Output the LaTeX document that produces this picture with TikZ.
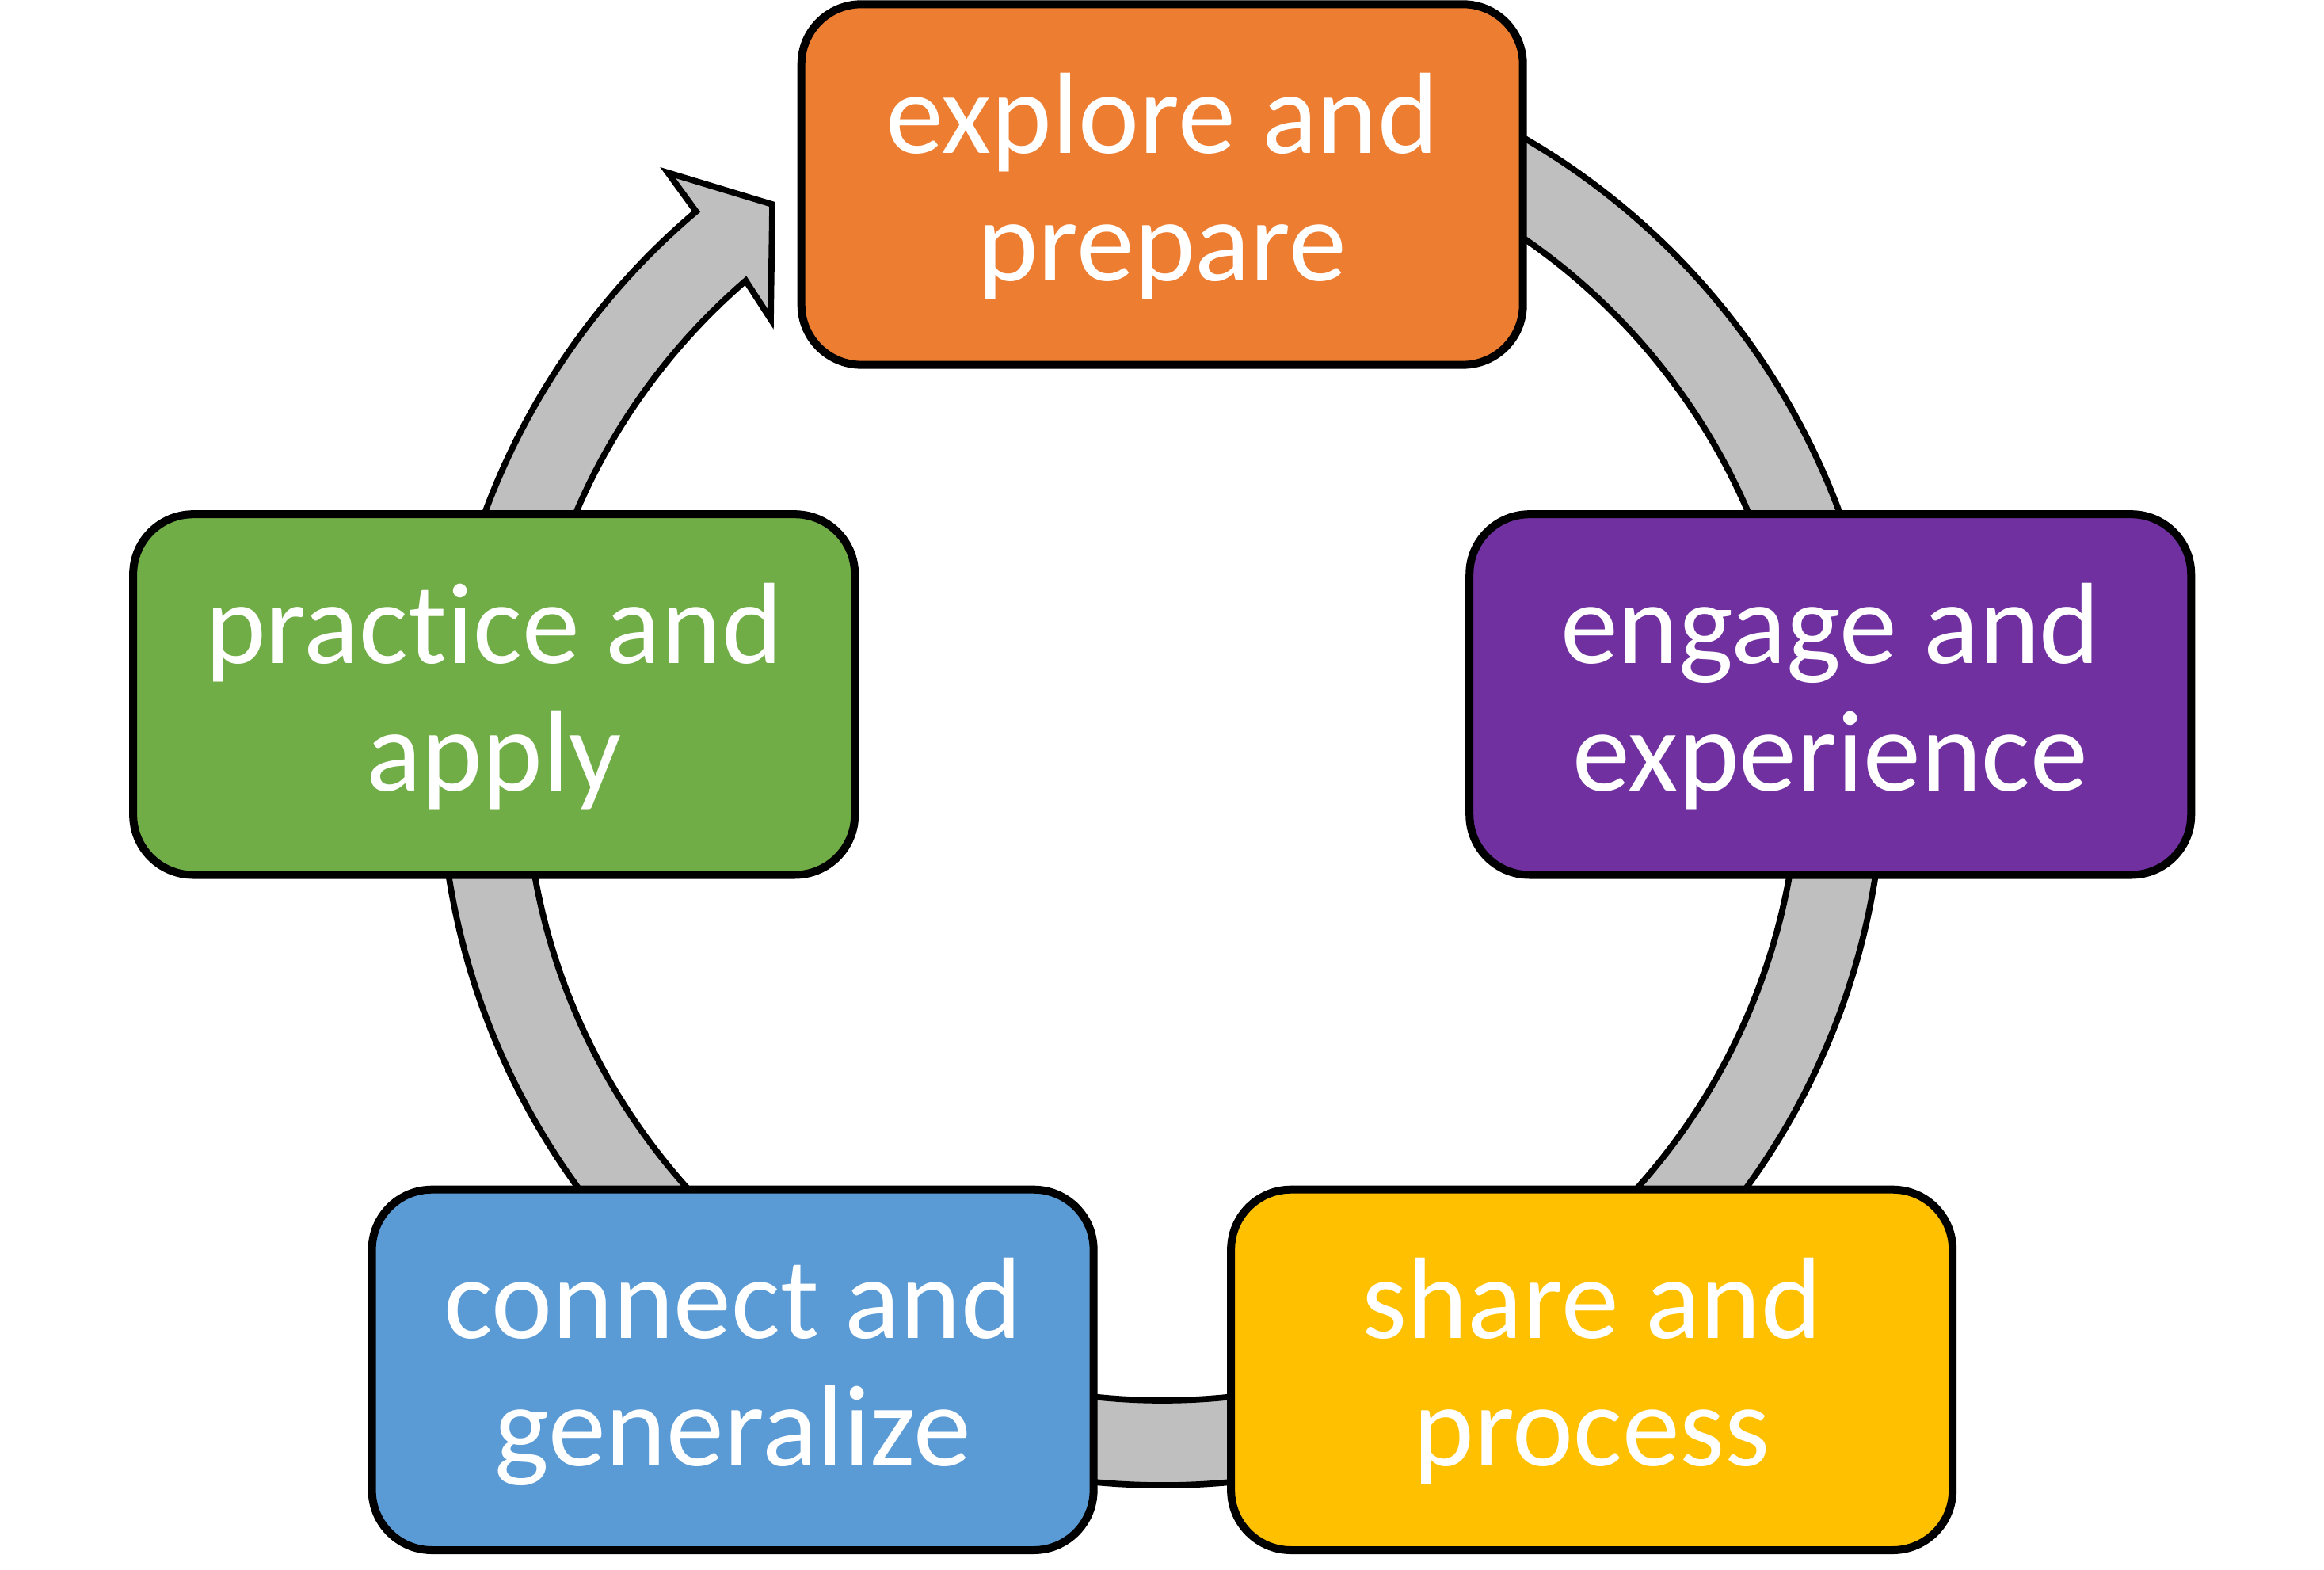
\documentclass[tikz,border=0pt]{standalone}
\usepackage{fontspec}
\setmainfont{Carlito}[Ligatures=NoCommon]
\usetikzlibrary{calc}
\definecolor{cOrange}{HTML}{ED7D31}
\definecolor{cPurple}{HTML}{7030A0}
\definecolor{cGold}{HTML}{FFC000}
\definecolor{cBlue}{HTML}{5B9BD5}
\definecolor{cGreen}{HTML}{70AD47}
\definecolor{ringGray}{HTML}{BFBFBF}
\begin{document}
\begin{tikzpicture}[x=0.01871cm, y=-0.01871cm,
  stage/.style={draw=black, line width=2.85pt, rounded corners=0.758cm,
    minimum width=9.108cm, minimum height=4.552cm, inner sep=0pt},
  caption/.style={text=white, font=\fontsize{41.5}{45.9}\selectfont,
    anchor=base, inner sep=0pt},
  ring/.style={draw=black, fill=ringGray, line width=2.2pt, line join=miter}]
\useasboundingbox (0,0) rectangle (1568,1059);

% centre of the circular arrow and its head
\coordinate (hub) at (784.1,514.85);
\coordinate (barbOut) at (450.6,116.5);
\coordinate (tipTop) at (521.1,137.9);
\coordinate (tipBot) at (520,215.4);

% circular arrow running clockwise behind the stages
\draw[ring] ($(hub)+(-85:487.2)$) arc[start angle=-85, end angle=229.8, radius=487.2]
  -- (barbOut) -- (tipTop) -- (tipBot) -- ($(hub)+(229.2:430)$)
  arc[start angle=229.2, end angle=-85, radius=430] -- cycle;

% stages
\node[stage, fill=cOrange] (explore)  at (784.1,124.5) {};
\node[stage, fill=cPurple] (engage)   at (1234.9,468.6) {};
\node[stage, fill=cGold]   (share)    at (1074,924.2) {};
\node[stage, fill=cBlue]   (connect)  at (494.4,924.2) {};
\node[stage, fill=cGreen]  (practice) at (333.3,468.6) {};

% labels, two lines per stage
\node[caption] (explore-a)  at ($(explore)+(0,-21.2)$)  {explore and};
\node[caption] (explore-b)  at ($(explore)+(0,64.8)$)   {prepare};
\node[caption] (engage-a)   at ($(engage)+(0,-21.2)$)   {engage and};
\node[caption] (engage-b)   at ($(engage)+(0,64.8)$)    {experience};
\node[caption] (share-a)    at ($(share)+(0,-21.2)$)    {share and};
\node[caption] (share-b)    at ($(share)+(0,64.8)$)     {process};
\node[caption] (connect-a)  at ($(connect)+(0,-21.2)$)  {connect and};
\node[caption] (connect-b)  at ($(connect)+(0,64.8)$)   {generalize};
\node[caption] (practice-a) at ($(practice)+(0,-21.2)$) {practice and};
\node[caption] (practice-b) at ($(practice)+(0,64.8)$)  {apply};
\end{tikzpicture}
\end{document}
